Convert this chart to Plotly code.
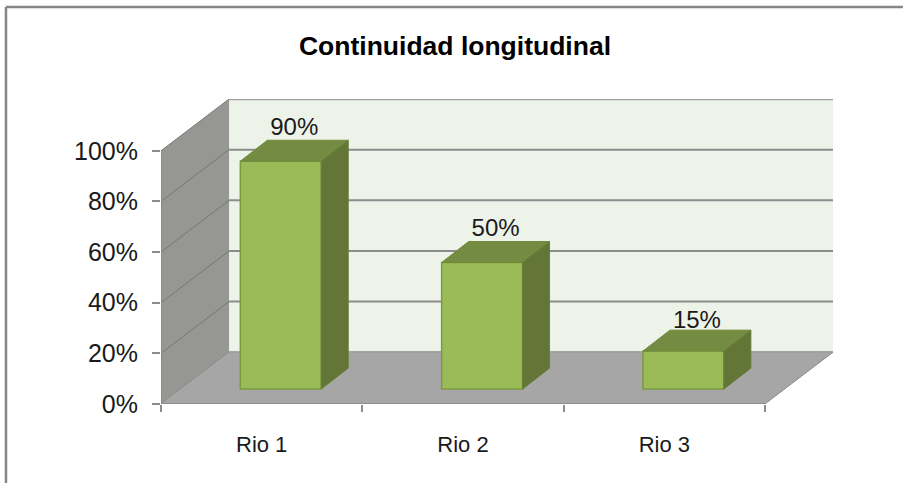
import plotly.graph_objects as go

# datos
categorias = ["Rio 1", "Rio 2", "Rio 3"]
valores = [90, 50, 15]
etiquetas = ["90%", "50%", "15%"]
ticks_y = [0, 20, 40, 60, 80, 100]
ticks_y_texto = ["0%", "20%", "40%", "60%", "80%", "100%"]

# profundidad de la caja 3D, en unidades de los ejes
FONDO_X = 0.338
FONDO_Y = 20.47
BARRA_X = 0.134
BARRA_Y = 8.27
BARRA_ANCHO = 0.402
BARRA_DESP = 0.095
BARRA_BASE = 5.9

GRIS = "#8c8c8c"
FUENTE = "Liberation Sans"

fig = go.Figure()

# cara frontal de las barras
posiciones = [i + BARRA_DESP for i in range(len(categorias))]
fig.add_trace(go.Bar(
    x=posiciones,
    y=valores,
    base=BARRA_BASE,
    width=BARRA_ANCHO,
    marker=dict(color="#9bbb59", line=dict(color="#7b9a3e", width=1.5)),
    hoverinfo="skip"
))

# etiquetas (quedan detras de la cara superior, el 15% va un poco tapado)
ajuste_etiqueta = [-0.4, 0, -1.6]
fig.add_trace(go.Scatter(
    x=[p + BARRA_X / 2 for p in posiciones],
    y=[v + BARRA_BASE + BARRA_Y + a for v, a in zip(valores, ajuste_etiqueta)],
    mode="text",
    text=etiquetas,
    textposition="top center",
    textfont=dict(family=FUENTE, size=24, color="#1a1a1a"),
    cliponaxis=False,
    hoverinfo="skip"
))

# caras superior y lateral
for p, v in zip(posiciones, valores):
    izq = p - BARRA_ANCHO / 2
    der = p + BARRA_ANCHO / 2
    alto = v + BARRA_BASE
    fig.add_trace(go.Scatter(
        x=[izq, der, der + BARRA_X, izq + BARRA_X, izq],
        y=[alto, alto, alto + BARRA_Y, alto + BARRA_Y, alto],
        mode="lines",
        fill="toself",
        fillcolor="#748c41",
        line=dict(color="#6f8a3a", width=1),
        hoverinfo="skip"
    ))
    fig.add_trace(go.Scatter(
        x=[der, der + BARRA_X, der + BARRA_X, der, der],
        y=[BARRA_BASE, BARRA_BASE + BARRA_Y, alto + BARRA_Y, alto, BARRA_BASE],
        mode="lines",
        fill="toself",
        fillcolor="#637537",
        line=dict(color="#67803a", width=1),
        hoverinfo="skip"
    ))

# paredes y suelo
x0 = -0.5
x1 = 2.5
shapes = []


def poligono(xs, ys, color):
    path = "M " + " L ".join(f"{x} {y}" for x, y in zip(xs, ys)) + " Z"
    return dict(type="path", path=path, xref="x", yref="y", layer="below",
                fillcolor=color, line=dict(width=0))


def linea(xa, ya, xb, yb, ancho=2, color=GRIS):
    return dict(type="line", x0=xa, y0=ya, x1=xb, y1=yb, xref="x", yref="y",
                layer="below", line=dict(color=color, width=ancho))


shapes.append(poligono(
    [x0 + FONDO_X, x1 + FONDO_X, x1 + FONDO_X, x0 + FONDO_X],
    [FONDO_Y, FONDO_Y, 100 + FONDO_Y, 100 + FONDO_Y],
    "#eef3ea"))
shapes.append(poligono(
    [x0, x0 + FONDO_X, x0 + FONDO_X, x0],
    [0, FONDO_Y, 100 + FONDO_Y, 100],
    "#969793"))
for t in ticks_y:
    shapes.append(linea(x0 + FONDO_X, t + FONDO_Y, x1 + FONDO_X, t + FONDO_Y))
    shapes.append(linea(x0, t, x0 + FONDO_X, t + FONDO_Y, 1, "#777777"))
shapes.append(linea(x0 + FONDO_X, 100 + FONDO_Y, x1 + FONDO_X, 100 + FONDO_Y, 2.5, "#a0a0a0"))
shapes.append(poligono(
    [x0, x1, x1 + FONDO_X, x0 + FONDO_X],
    [0, 0, FONDO_Y, FONDO_Y],
    "#a6a6a6"))
shapes.append(linea(x0, 0, x0, 100))
shapes.append(linea(x0, 0, x1, 0))
shapes.append(linea(x1, 0, x1 + FONDO_X, FONDO_Y, 1))

# marco de la imagen
marco = dict(color="#868686", width=2.5)
shapes.append(dict(type="line", xref="paper", yref="paper", x0=-0.2307, x1=1.104,
                   y0=1.3016, y1=1.3016, line=marco))
shapes.append(dict(type="line", xref="paper", yref="paper", x0=-0.2307, x1=-0.2307,
                   y0=-0.26, y1=1.3016, line=marco))

fig.update_layout(
    width=903,
    height=483,
    autosize=False,
    showlegend=False,
    paper_bgcolor="white",
    plot_bgcolor="rgba(0,0,0,0)",
    margin=dict(l=161, r=70, t=99, b=79),
    shapes=shapes,
    title=dict(
        text="<b>Continuidad longitudinal</b>",
        x=455 / 903,
        y=1 - 46 / 483,
        xanchor="center",
        yanchor="middle",
        font=dict(family=FUENTE, size=26.5, color="black")
    ),
    xaxis=dict(
        range=[x0, x1 + FONDO_X],
        tickmode="array",
        tickvals=list(range(len(categorias))),
        ticktext=categorias,
        ticks="",
        ticklabelstandoff=25,
        tickfont=dict(family=FUENTE, size=22, color="#1a1a1a"),
        showgrid=False,
        zeroline=False,
        showline=False,
        minor=dict(
            tickmode="array",
            tickvals=[-0.5, 0.5, 1.5, 2.5],
            ticks="outside",
            ticklen=7,
            tickwidth=2,
            tickcolor=GRIS,
            showgrid=False
        )
    ),
    yaxis=dict(
        range=[0, 100 + FONDO_Y],
        tickmode="array",
        tickvals=ticks_y,
        ticktext=ticks_y_texto,
        ticks="outside",
        ticklen=8,
        tickwidth=2,
        tickcolor=GRIS,
        ticklabelstandoff=9,
        tickfont=dict(family=FUENTE, size=25, color="#1a1a1a"),
        showgrid=False,
        zeroline=False,
        showline=False
    )
)

fig.write_html(
    "out.html",
    config={"displayModeBar": False},
    post_script="document.body.style.margin='0';document.body.style.overflow='hidden';"
)
